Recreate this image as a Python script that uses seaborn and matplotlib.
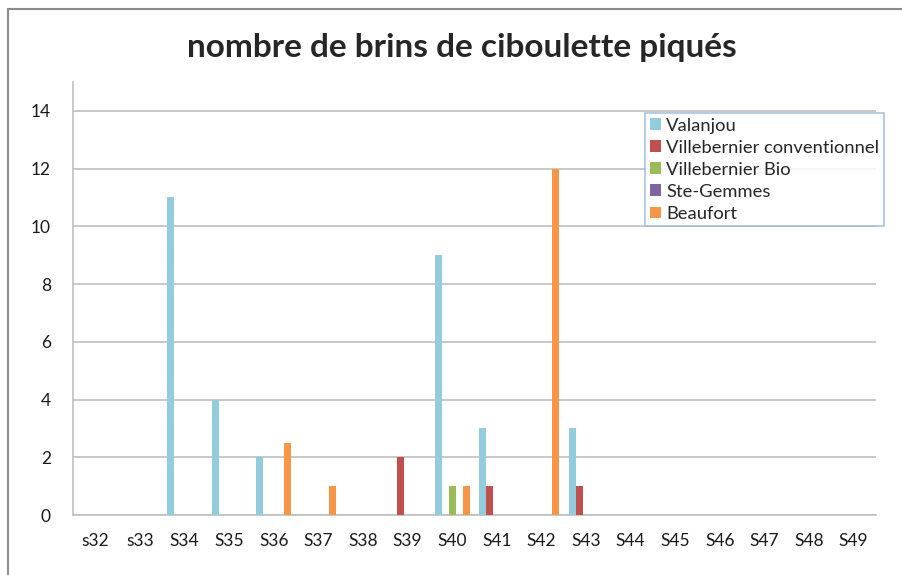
import pandas as pd
import seaborn as sns
from matplotlib import pyplot as plt
from matplotlib.lines import Line2D

semaines = ["s32", "s33", "S34", "S35", "S36", "S37", "S38", "S39", "S40",
            "S41", "S42", "S43", "S44", "S45", "S46", "S47", "S48", "S49"]
sites = ["Valanjou", "Villebernier conventionnel", "Villebernier Bio",
         "Ste-Gemmes", "Beaufort"]

valanjou = [0, 0, 11, 4, 2, 0, 0, 0, 9, 3, 0, 3, 0, 0, 0, 0, 0, 0]
villebernier_conv = [0, 0, 0, 0, 0, 0, 0, 2, 0, 1, 0, 1, 0, 0, 0, 0, 0, 0]
villebernier_bio = [0, 0, 0, 0, 0, 0, 0, 0, 1, 0, 0, 0, 0, 0, 0, 0, 0, 0]
ste_gemmes = [0] * 18
beaufort = [0, 0, 0, 0, 2.5, 1, 0, 0, 1, 0, 12, 0, 0, 0, 0, 0, 0, 0]

couleurs = ["#93CDDD", "#C0504D", "#9BBB59", "#8064A2", "#F79646"]

series = [valanjou, villebernier_conv, villebernier_bio, ste_gemmes, beaufort]
rows = []
for site, vals in zip(sites, series):
    for sem, v in zip(semaines, vals):
        rows.append({"semaine": sem, "site": site, "brins": v})
df = pd.DataFrame(rows)

sns.set_style("white")
plt.rcParams['font.family'] = ['Lato', 'DejaVu Sans']

fig = plt.figure(figsize=(9.03, 5.75), dpi=100)
ax = fig.add_axes([73 / 903, 1 - 515 / 575, (876 - 73) / 903, (515 - 82) / 575])

sns.barplot(data=df, x="semaine", y="brins", hue="site", order=semaines,
            hue_order=sites, palette=couleurs, saturation=1, width=0.78,
            gap=0, linewidth=0, errorbar=None, ax=ax, zorder=3)

ax.set_ylim(0, 15)
ax.set_yticks(range(0, 15, 2))
ax.set_xlim(-0.5, len(semaines) - 0.5)
ax.set_xlabel("")
ax.set_ylabel("")
ax.yaxis.grid(True, color="#BFBFBF", linewidth=1.2, zorder=0)
ax.tick_params(axis="both", length=0, labelsize=12.5, colors="#1a1a1a")
ax.tick_params(axis="x", pad=13)
ax.tick_params(axis="y", pad=16)
for s in ["top", "right"]:
    ax.spines[s].set_visible(False)
for s in ["left", "bottom"]:
    ax.spines[s].set_color("#BFBFBF")
    ax.spines[s].set_linewidth(1.2)

fig.text(462 / 903, 1 - 47 / 575, "nombre de brins de ciboulette piqués",
         ha="center", va="center", fontsize=24, fontweight="bold")

leg = ax.legend(loc="upper left", bbox_to_anchor=(645 / 903, 1 - 113 / 575),
                bbox_transform=fig.transFigure, borderaxespad=0,
                fontsize=13.2, frameon=True, fancybox=False,
                handlelength=0.6, handleheight=0.6, handletextpad=0.3,
                labelspacing=0.33, borderpad=0.25)
leg.get_frame().set_edgecolor("#95B3D7")
leg.get_frame().set_linewidth(1.2)

# cadre du graphique
fig.add_artist(Line2D([8 / 903, 1], [1 - 9 / 575] * 2, color="#8C8C8C",
                      linewidth=1.5, transform=fig.transFigure))
fig.add_artist(Line2D([8 / 903] * 2, [0, 1 - 9 / 575], color="#8C8C8C",
                      linewidth=1.5, transform=fig.transFigure))

plt.savefig("out.png", dpi=100)
